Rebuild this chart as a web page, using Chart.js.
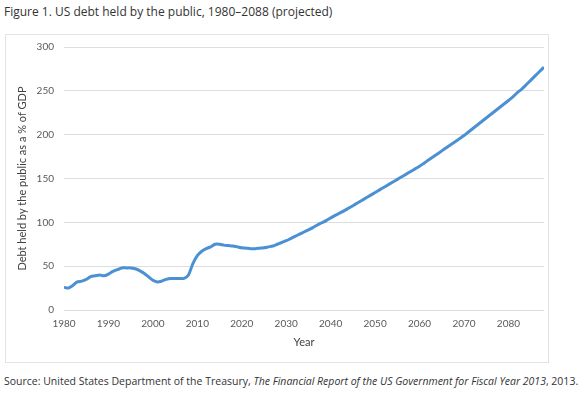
<!DOCTYPE html>
<html>
<head>
<meta charset="utf-8">
<script src="https://cdn.jsdelivr.net/npm/chart.js@4"></script>
<style>
  body { margin: 0; background: #fff; width: 585px; height: 395px; position: relative; overflow: hidden; }
  #title { position: absolute; left: 4px; top: 3px; font: 12px "Open Sans", sans-serif; color: #333; }
  #box { position: absolute; left: 5px; top: 34px; width: 542px; height: 327px; border: 1px solid #e3e3e3; }
  #box canvas { position: absolute; left: 0; top: -4px; }
  #source { position: absolute; left: 4px; top: 374px; font: 10.5px "Open Sans", sans-serif; color: #333; }
</style>
</head>
<body>
<div id="title">Figure 1. US debt held by the public, 1980–2088 (projected)</div>
<div id="box"><canvas id="debt" width="542" height="327"></canvas></div>
<div id="source">Source: United States Department of the Treasury, <i>The Financial Report of the US Government for Fiscal Year 2013</i>, 2013.</div>
<script>
// anos 1980..2088
const firstYear = 1980;
const lastYear = 2088;

// divida em % do PIB (um valor por ano)
const debt_1980s = [26, 25, 28, 32, 33, 35, 38, 39, 40, 39];
const debt_1990s = [41, 44, 46, 48, 48, 48, 47, 45, 42, 38];
const debt_2000s = [34, 32, 33, 35, 36, 36, 36, 36, 40, 53];
const debt_2010s = [62, 67, 70, 72, 75, 75, 74, 73.5, 73, 72];
const debt_2020s = [71, 70.5, 70, 70, 70.5, 71, 72, 73, 75, 77];
const debt_2030s = [79, 81.5, 84, 86.5, 89, 91.5, 94, 97, 99.5, 102];
const debt_2040s = [105, 108, 110.5, 113, 116, 119, 122, 125, 128, 131];
const debt_2050s = [134, 137, 140, 143, 146, 149, 152, 155, 158, 161];
const debt_2060s = [164, 167.5, 171, 174.5, 178, 181.5, 185, 188.5, 192, 195.5];
const debt_2070s = [199, 203, 207, 211, 215, 219, 223, 227, 231, 235];
const debt_2080s = [239, 243, 248, 252, 257, 262, 267, 272, 277];

const yTicks = [0, 50, 100, 150, 200, 250, 300];

const debtValues = [].concat(debt_1980s, debt_1990s, debt_2000s, debt_2010s, debt_2020s,
  debt_2030s, debt_2040s, debt_2050s, debt_2060s, debt_2070s, debt_2080s);

const points = debtValues.map((v, i) => ({ x: firstYear + i, y: v }));

const tickFont = { family: 'Lato, "Open Sans", sans-serif', size: 10 };

new Chart(document.getElementById('debt').getContext('2d'), {
  type: 'line',
  data: {
    datasets: [{
      data: points,
      borderColor: '#4a90d2',
      borderWidth: 3,
      pointRadius: 0,
      tension: 0.3,
      fill: false
    }]
  },
  options: {
    responsive: false,
    animation: false,
    layout: { padding: { left: 8, right: 4, top: 7, bottom: 9 } },
    plugins: { legend: { display: false }, tooltip: { enabled: false } },
    scales: {
      x: {
        type: 'linear',
        min: firstYear,
        max: lastYear,
        grid: { display: false, drawTicks: false },
        border: { display: false },
        afterBuildTicks: s => { s.ticks = s.ticks.filter(t => t.value % 10 === 0); },
        afterFit: s => { s.height = 39; },
        ticks: { stepSize: 10, color: '#595959', font: tickFont, padding: 8, maxRotation: 0,
                 callback: v => String(v) },
        title: { display: true, text: 'Year', color: '#404040', font: { family: tickFont.family, size: 11 }, padding: { top: 2, bottom: 0 } }
      },
      y: {
        min: 0,
        max: 300,
        afterBuildTicks: s => { s.ticks = yTicks.map(v => ({ value: v })); },
        afterFit: s => { s.width = 50; },
        grid: { color: '#dedede', lineWidth: 1, drawTicks: false },
        border: { display: false },
        ticks: { color: '#595959', font: tickFont, padding: 10 },
        title: { display: true, text: 'Debt held by the public as a % of GDP', color: '#404040',
                 font: { family: tickFont.family, size: 11 }, padding: { top: 2, bottom: 4 } }
      }
    }
  }
});
</script>
</body>
</html>
